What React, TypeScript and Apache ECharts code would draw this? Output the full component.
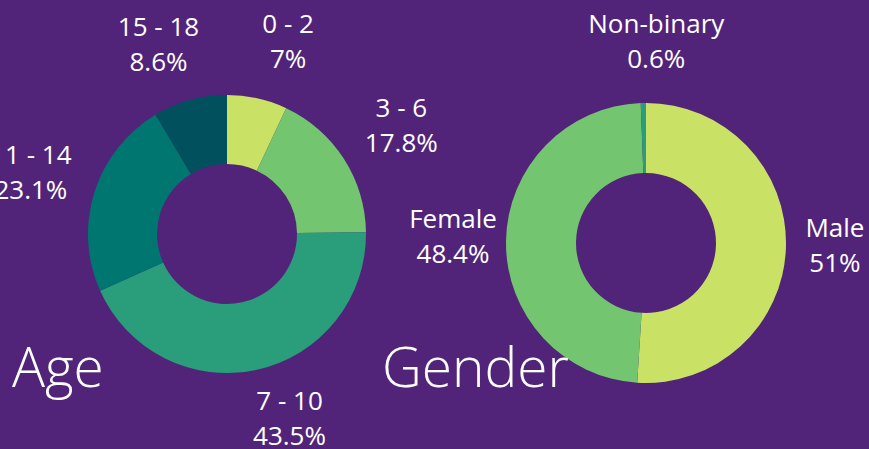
import React, { useEffect, useRef } from "react";
import * as echarts from "echarts";

const ageCategories = ["0 - 2", "3 - 6", "7 - 10", "11 - 14", "15 - 18"];
const ageValues = [7, 17.8, 43.5, 23.1, 8.6];
const ageColors = ["#c9e265", "#73c56f", "#2a9d7a", "#007670", "#00505e"];
// small horizontal label nudges (styling only)
const ageLabelNudges = [19, 12, 21, -12, -17];

const genderCategories = ["Male", "Female", "Non-binary"];
const genderValues = [51, 48.4, 0.6];
const genderColors = ["#c9e265", "#73c56f", "#2a9d7a"];
const genderLabelNudges = [-9, 5, 14];

const BG = "#51247a";

function buildData(cats: string[], vals: number[], colors: string[]) {
  return cats.map((name, i) => ({ name, value: vals[i], itemStyle: { color: colors[i] } }));
}

function nudgePadding(dx: number) {
  return [0, Math.max(-2 * dx, 0), 0, Math.max(2 * dx, 0)];
}

function labelSeries(
  cats: string[],
  vals: number[],
  nudges: number[],
  center: [number, number],
  r: number
) {
  return {
    type: "pie",
    silent: true,
    center,
    radius: [r - 10, r + 10],
    startAngle: 90,
    clockwise: true,
    avoidLabelOverlap: false,
    labelLayout: { hideOverlap: false },
    emphasis: { disabled: true },
    itemStyle: { color: "rgba(0,0,0,0)" },
    label: {
      show: true,
      position: "inside",
      rotate: 0,
      overflow: "none",
      formatter: (p: any) => `${p.name}\n${p.value}%`,
      color: "#ffffff",
      fontFamily: "Open Sans",
      fontSize: 26,
      lineHeight: 35,
      align: "center",
      verticalAlign: "middle",
    },
    labelLine: { show: false },
    data: cats.map((name, i) => ({
      name,
      value: vals[i],
      label: { padding: nudgePadding(nudges[i]) },
    })),
  };
}

export default function App() {
  const ref = useRef<HTMLDivElement>(null);
  useEffect(() => {
    if (!ref.current) return;
    const chart = echarts.init(ref.current, undefined, { renderer: "svg" });
    const titleStyle = { color: "#ffffff", fontFamily: "Open Sans", fontWeight: 300, fontSize: 55 };
    chart.setOption({
      animation: false,
      backgroundColor: BG,
      title: [
        { text: "Age", left: 7, top: 333, textStyle: titleStyle },
        { text: "Gender", left: 377, top: 333, textStyle: titleStyle },
      ],
      series: [
        {
          type: "pie",
          silent: true,
          center: [227, 234],
          radius: [70, 139],
          startAngle: 90,
          label: { show: false },
          labelLine: { show: false },
          emphasis: { disabled: true },
          data: buildData(ageCategories, ageValues, ageColors),
        },
        labelSeries(ageCategories, ageValues, ageLabelNudges, [227, 229], 190),
        {
          type: "pie",
          silent: true,
          center: [646, 243],
          radius: [70, 140],
          startAngle: 90,
          label: { show: false },
          labelLine: { show: false },
          emphasis: { disabled: true },
          data: buildData(genderCategories, genderValues, genderColors),
        },
        labelSeries(genderCategories, genderValues, genderLabelNudges, [646, 238], 195),
      ],
    });
    return () => chart.dispose();
  }, []);
  return (
    <div
      ref={ref}
      style={{ position: "fixed", left: 0, top: 0, width: 869, height: 449 }}
    />
  );
}
